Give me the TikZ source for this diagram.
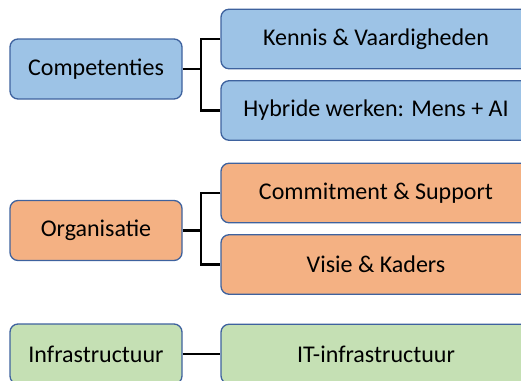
\documentclass[tikz,border=0pt]{standalone}
\usepackage{fontspec}
\setmainfont{Carlito}
\definecolor{bluefill}{RGB}{157,195,230}
\definecolor{orangefill}{RGB}{244,177,131}
\definecolor{greenfill}{RGB}{197,224,180}
\definecolor{edge}{RGB}{62,98,158}
\tikzset{
  box/.style={draw=edge, line width=1.3pt, rounded corners=8pt, inner sep=0pt,
    font=\fontsize{24}{28}\selectfont, text=black, anchor=center},
  leftbox/.style={box, minimum width=172pt, minimum height=60pt},
  rightbox/.style={box, minimum width=310pt, minimum height=59.5pt},
  conn/.style={draw=black, line width=2.7pt}
}
\begin{document}
\begin{tikzpicture}[x=1pt,y=-1pt]
\useasboundingbox (0,0) rectangle (521,380);
\clip (0,0) rectangle (521,380);
% Competenties group
\node[leftbox, fill=bluefill] (comp) at (96,69) {Competenties};
\node[rightbox, fill=bluefill] (kennis) at (376,39) {Kennis \& Vaardigheden};
\node[rightbox, fill=bluefill] (hyb) at (376,110.5) {Hybride werken: Mens + AI};
\coordinate (j1) at (201,69);
\draw[conn] (comp.east) -- (j1);
\draw[conn] (kennis.west) -| (j1) |- (hyb.west);
% Organisatie group
\node[leftbox, fill=orangefill] (org) at (96,230.5) {Organisatie};
\node[rightbox, fill=orangefill] (comm) at (376,193) {Commitment \& Support};
\node[rightbox, fill=orangefill] (visie) at (376,264.5) {Visie \& Kaders};
\coordinate (j2) at (201,230.5);
\draw[conn] (org.east) -- (j2);
\draw[conn] (comm.west) -| (j2) |- (visie.west);
% Infrastructuur group
\node[leftbox, fill=greenfill] (infra) at (96,354) {Infrastructuur};
\node[rightbox, fill=greenfill] (it) at (376,354) {IT-infrastructuur};
\draw[conn] (infra.east) -- (it.west);
\end{tikzpicture}
\end{document}
